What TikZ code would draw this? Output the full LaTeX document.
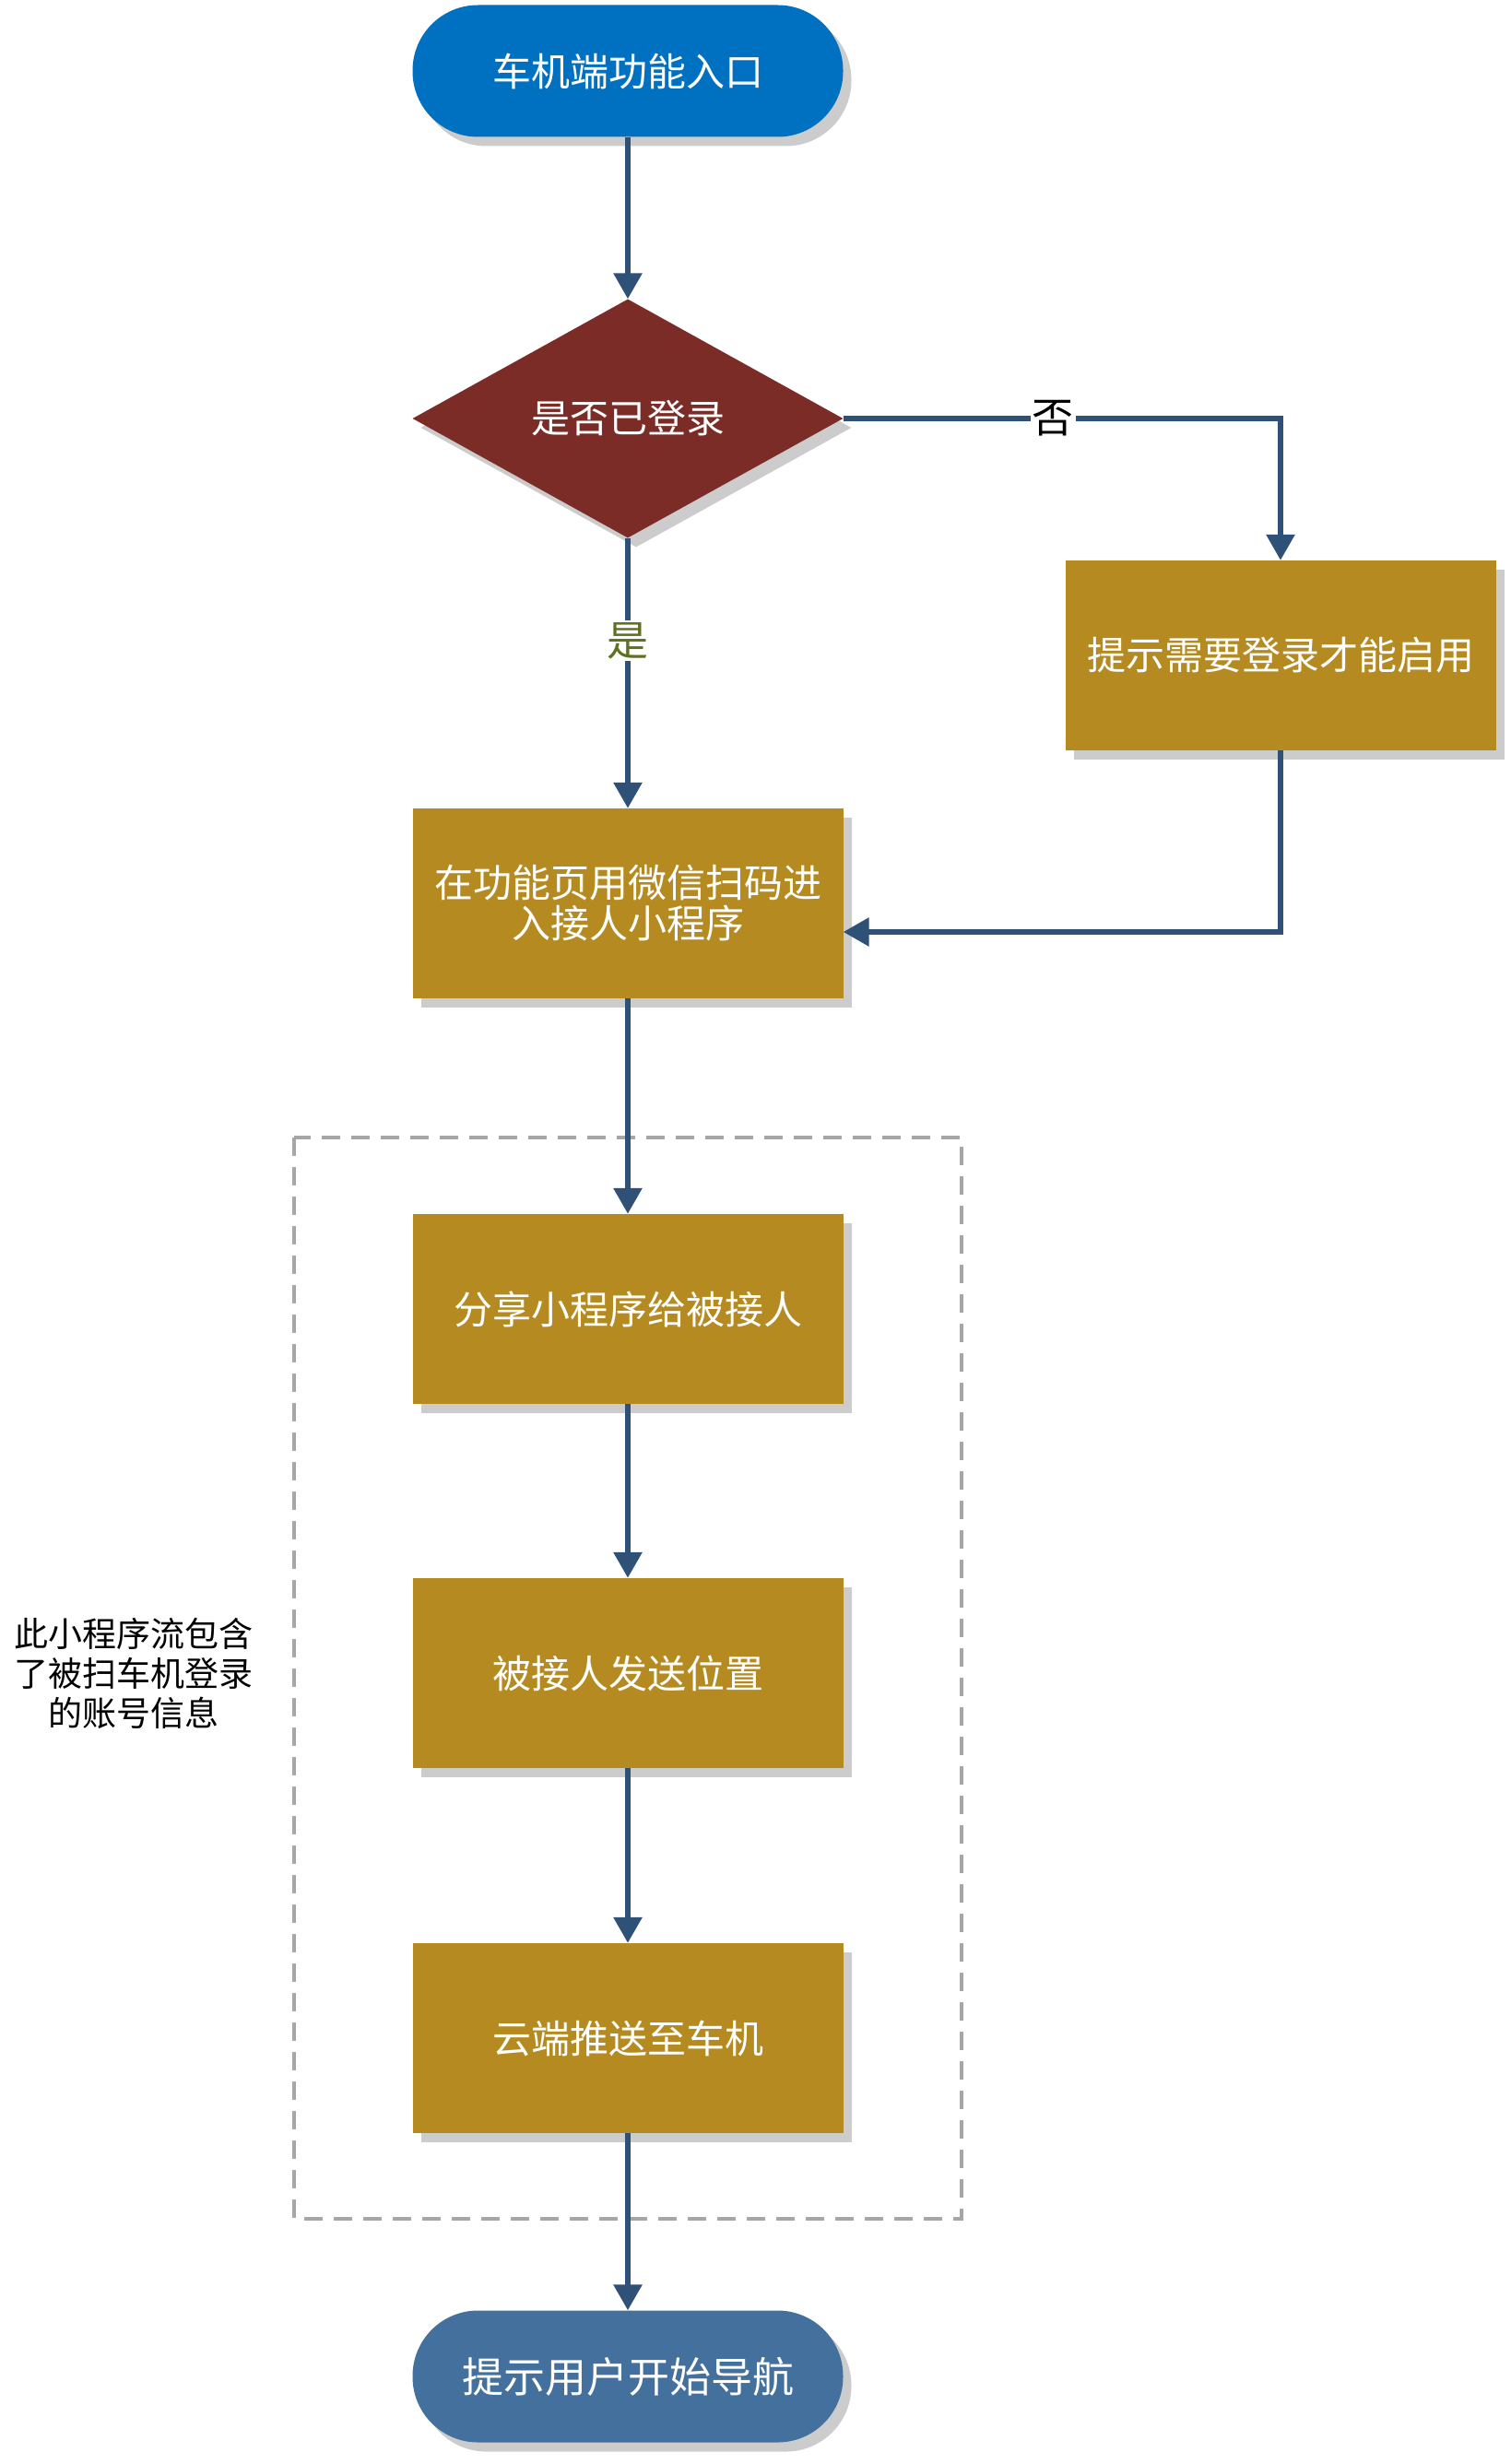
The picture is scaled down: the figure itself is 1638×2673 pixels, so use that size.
\documentclass[tikz,border=0pt]{standalone}
\usepackage{fontspec}
\setmainfont{Noto Sans CJK SC}
\usetikzlibrary{arrows.meta,shapes.geometric,shadows}
\definecolor{cstart}{RGB}{0,112,192}
\definecolor{cdiam}{RGB}{123,44,39}
\definecolor{cbox}{RGB}{181,139,33}
\definecolor{cend}{RGB}{68,112,157}
\definecolor{carrow}{RGB}{47,80,119}
\definecolor{cyes}{RGB}{94,113,30}
\definecolor{cdash}{RGB}{166,166,166}
\tikzset{
  shad/.style={drop shadow={shadow xshift=9pt,shadow yshift=-10pt,fill=black!20,opacity=1}},
  term/.style={shad,fill=#1,draw=none,rounded corners=71pt,minimum width=467pt,minimum height=143pt,text=white,font=\fontsize{42}{50}\selectfont,inner sep=0pt},
  procbox/.style={shad,fill=cbox,draw=none,minimum width=467pt,minimum height=206pt,text=white,font=\fontsize{42}{50}\selectfont,align=center,inner sep=0pt},
  decis/.style={shad,diamond,fill=cdiam,draw=none,aspect=1.8,minimum width=467pt,minimum height=259pt,text=white,font=\fontsize{42}{50}\selectfont,inner sep=0pt},
  flow/.style={draw=carrow,line width=6pt,-{Triangle[length=28pt,width=30pt]}},
  elabel/.style={fill=white,inner sep=2pt,font=\fontsize{45}{50}\selectfont}
}
\begin{document}
\begin{tikzpicture}[x=1pt,y=-1pt]
\useasboundingbox (0,0) rectangle (1638,2673);
% dashed group frame
\draw[cdash,line width=3.5pt,dash pattern=on 20pt off 12pt] (319,1234) rectangle (1043,2407);
\node[term=cstart] (start) at (681,77) {车机端功能入口};
\node[decis] (login) at (681,454) {是否已登录};
\node[procbox] (hint) at (1389,711) {提示需要登录才能启用};
\node[procbox] (scan) at (681,980) {在功能页用微信扫码进\\[-6pt]入接人小程序};
\node[procbox] (share) at (681,1420) {分享小程序给被接人};
\node[procbox] (send) at (681,1815) {被接人发送位置};
\node[procbox] (push) at (681,2211) {云端推送至车机};
\node[term=cend,font=\fontsize{45}{50}\selectfont] (nav) at (681,2578) {提示用户开始导航};
\node[align=center,font=\fontsize{37}{43}\selectfont] (note) at (145,1815) {此小程序流包含\\了被扫车机登录\\的账号信息};
\coordinate (c1) at (1389,1011);
\draw[flow] (start) -- (login);
\draw[flow] (login) -- node[elabel,text=cyes,pos=0.38] (yes) {是} (scan);
\draw[flow] (login.east) -- node[elabel,text=black,pos=0.48] (no) {否} (login.east -| hint.north) -- (hint.north);
\draw[flow] (hint.south) -- (c1) -- (c1 -| scan.east);
\draw[flow] (scan) -- (share);
\draw[flow] (share) -- (send);
\draw[flow] (send) -- (push);
\draw[flow] (push) -- (nav);
\end{tikzpicture}
\end{document}
